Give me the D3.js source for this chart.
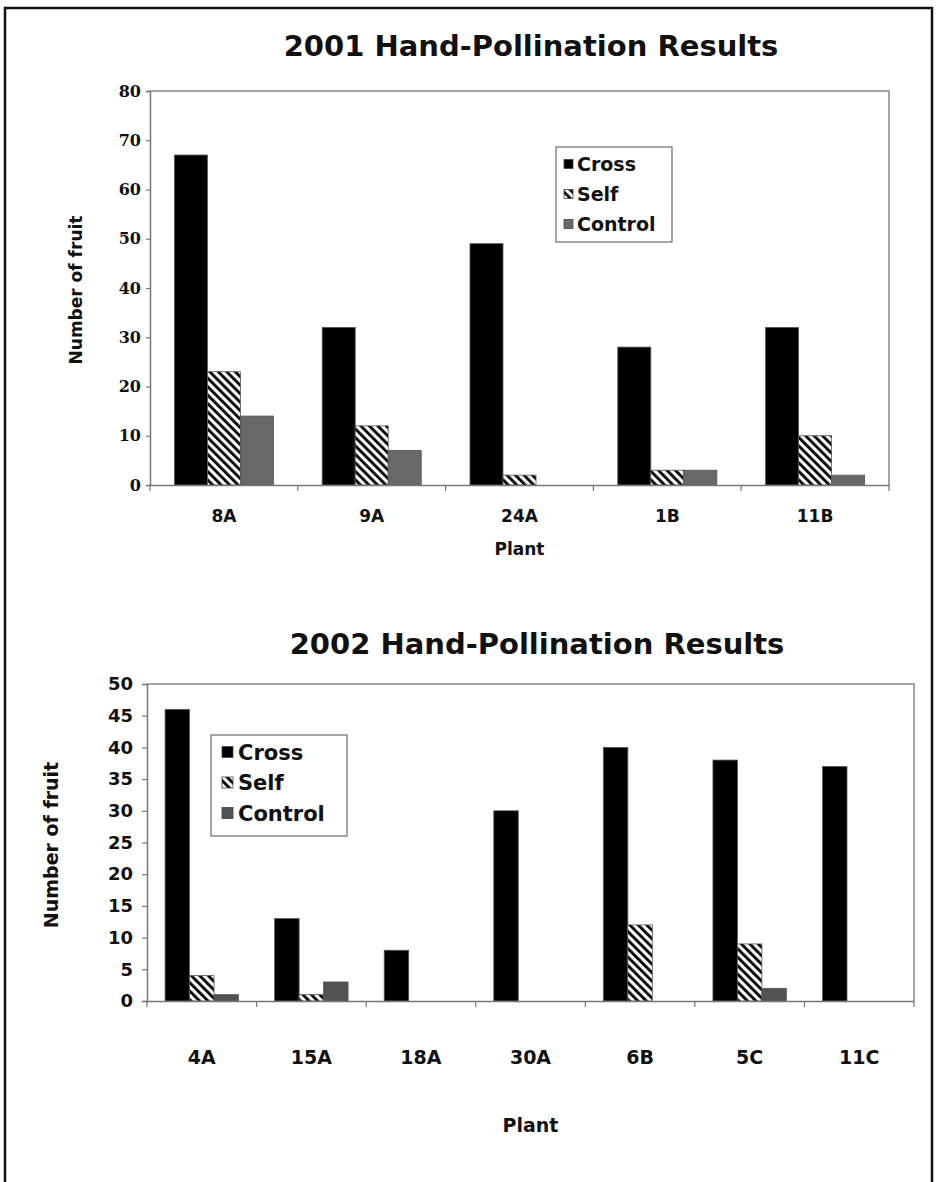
<!DOCTYPE html>
<html>
<head>
<meta charset="utf-8">
<script src="https://cdn.jsdelivr.net/npm/d3@7"></script>
<style>
  body { margin: 0; background: #fff; }
</style>
</head>
<body>
<script>
// series shared by both charts
const series = ["Cross", "Self", "Control"];

// 2001 data
const plants2001 = ["8A", "9A", "24A", "1B", "11B"];
const cross2001 = [67, 32, 49, 28, 32];
const self2001 = [23, 12, 2, 3, 10];
const control2001 = [14, 7, 0, 3, 2];
const yTicks2001 = [0, 10, 20, 30, 40, 50, 60, 70, 80];

// 2002 data
const plants2002 = ["4A", "15A", "18A", "30A", "6B", "5C", "11C"];
const cross2002 = [46, 13, 8, 30, 40, 38, 37];
const self2002 = [4, 1, 0, 0, 12, 9, 0];
const control2002 = [1, 3, 0, 0, 0, 2, 0];
const yTicks2002 = [0, 5, 10, 15, 20, 25, 30, 35, 40, 45, 50];

const sans = "'DejaVu Sans', Verdana, sans-serif";
const serif = "'DejaVu Serif', 'Liberation Serif', serif";

const svg = d3.select("body")
    .append("svg")
    .attr("width", 937)
    .attr("height", 1182);

// hatch pattern for "Self"
const defs = svg.append("defs");
const hatch = defs.append("pattern")
    .attr("id", "hatch")
    .attr("patternUnits", "userSpaceOnUse")
    .attr("width", 6)
    .attr("height", 6)
    .attr("patternTransform", "rotate(-45)");
hatch.append("rect").attr("width", 6).attr("height", 6).attr("fill", "#fff");
hatch.append("rect").attr("width", 2.8).attr("height", 6).attr("fill", "#000");

// page frame (top, left, right)
svg.append("path")
    .attr("d", "M5,1182 L5,8 L932,8 L932,1182")
    .attr("fill", "none")
    .attr("stroke", "#111")
    .attr("stroke-width", 2.5);

function drawChart(cfg) {
    const rows = cfg.plants.map((p, i) => ({
        plant: p, Cross: cfg.cross[i], Self: cfg.self[i], Control: cfg.control[i]
    }));
    const fills = {Cross: "#000", Self: "url(#hatch)", Control: cfg.controlColor};

    const x = d3.scaleBand()
        .domain(cfg.plants)
        .range([cfg.left, cfg.right]);
    const step = x.step();
    const x1 = d3.scaleBand()
        .domain(series)
        .range([step * 0.165, step * 0.835]);
    const y = d3.scaleLinear()
        .domain([0, d3.max(cfg.yTicks)])
        .range([cfg.bottom, cfg.top]);

    const g = svg.append("g");

    // plot frame top/right
    g.append("path")
        .attr("d", `M${cfg.left},${cfg.top} L${cfg.right},${cfg.top} L${cfg.right},${cfg.bottom}`)
        .attr("fill", "none")
        .attr("stroke", "#888")
        .attr("stroke-width", 1.5);

    // bars
    const groups = g.selectAll(".grp")
        .data(rows)
        .join("g")
        .attr("transform", d => `translate(${x(d.plant)},0)`);
    groups.selectAll("rect")
        .data(d => series.map(k => ({key: k, value: d[k]})).filter(e => e.value > 0))
        .join("rect")
        .attr("x", d => x1(d.key))
        .attr("width", x1.bandwidth())
        .attr("y", d => y(d.value))
        .attr("height", d => y(0) - y(d.value))
        .attr("fill", d => fills[d.key])
        .attr("stroke", "#555")
        .attr("stroke-width", 0.8);

    // y axis
    const yAxis = g.append("g")
        .attr("transform", `translate(${cfg.left},0)`)
        .call(d3.axisLeft(y).tickValues(cfg.yTicks).tickSize(cfg.yTickSize).tickPadding(cfg.yTickPad));
    yAxis.select(".domain").attr("stroke", "#777").attr("stroke-width", 1.5);
    yAxis.selectAll(".tick line").attr("stroke", "#777").attr("stroke-width", 1.2);
    yAxis.selectAll("text")
        .attr("fill", "#111")
        .style("font-family", cfg.yFont)
        .style("font-weight", "bold")
        .style("font-size", cfg.yFontSize + "px");

    // x axis
    const xAxis = g.append("g")
        .attr("transform", `translate(0,${cfg.bottom})`)
        .call(d3.axisBottom(x).tickSize(0).tickPadding(cfg.xTickPad).tickSizeOuter(0));
    xAxis.select(".domain").attr("stroke", "#777").attr("stroke-width", 1.5);
    xAxis.selectAll("text")
        .attr("fill", "#111")
        .style("font-family", sans)
        .style("font-weight", "bold")
        .style("font-size", cfg.xFontSize + "px");
    xAxis.selectAll(".bound")
        .data(cfg.plants.map(p => x(p)).concat([cfg.right]))
        .join("line")
        .attr("class", "bound")
        .attr("x1", d => d).attr("x2", d => d)
        .attr("y1", 0).attr("y2", 6)
        .attr("stroke", "#777")
        .attr("stroke-width", 1.2);

    // title
    svg.append("text")
        .attr("x", cfg.titleX)
        .attr("y", cfg.titleY)
        .attr("text-anchor", "middle")
        .style("font-family", sans)
        .style("font-weight", "bold")
        .style("font-size", cfg.titleSize + "px")
        .attr("fill", "#111")
        .text(cfg.title);

    // axis titles
    svg.append("text")
        .attr("transform", `translate(${cfg.yLabelX},${cfg.yLabelY}) rotate(-90)`)
        .attr("text-anchor", "middle")
        .style("font-family", sans)
        .style("font-weight", "bold")
        .style("font-size", cfg.labelSize + "px")
        .attr("fill", "#111")
        .text("Number of fruit");
    svg.append("text")
        .attr("x", (cfg.left + cfg.right) / 2)
        .attr("y", cfg.xLabelY)
        .attr("text-anchor", "middle")
        .style("font-family", sans)
        .style("font-weight", "bold")
        .style("font-size", cfg.labelSize + "px")
        .attr("fill", "#111")
        .text("Plant");

    // legend
    const lg = cfg.legend;
    svg.append("rect")
        .attr("x", lg.x).attr("y", lg.y)
        .attr("width", lg.w).attr("height", lg.h)
        .attr("fill", "#fff")
        .attr("stroke", "#777")
        .attr("stroke-width", 1.3);
    const item = svg.selectAll(null)
        .data(series)
        .join("g")
        .attr("transform", (d, i) => `translate(${lg.swatchX},${lg.row0 + i * lg.rowGap})`);
    item.append("rect")
        .attr("x", 0)
        .attr("y", -lg.sw / 2)
        .attr("width", lg.sw)
        .attr("height", lg.sw)
        .attr("fill", d => fills[d])
        .attr("stroke", "#444")
        .attr("stroke-width", 0.8);
    item.append("text")
        .attr("x", lg.textX - lg.swatchX)
        .attr("dy", "0.36em")
        .style("font-family", sans)
        .style("font-weight", "bold")
        .style("font-size", lg.size + "px")
        .attr("fill", "#111")
        .text(d => d);
}

drawChart({
    title: "2001 Hand-Pollination Results",
    plants: plants2001, cross: cross2001, self: self2001, control: control2001,
    yTicks: yTicks2001,
    controlColor: "#686868",
    left: 150, right: 889, top: 91, bottom: 485,
    yTickSize: 4, yTickPad: 5, yFont: serif, yFontSize: 16,
    xTickPad: 25, xFontSize: 17,
    titleX: 531, titleY: 56, titleSize: 29,
    yLabelX: 82, yLabelY: 290, xLabelY: 555, labelSize: 17,
    legend: {x: 556, y: 147, w: 116, h: 95, swatchX: 564, textX: 577, row0: 164, rowGap: 30, sw: 9, size: 19}
});

drawChart({
    title: "2002 Hand-Pollination Results",
    plants: plants2002, cross: cross2002, self: self2002, control: control2002,
    yTicks: yTicks2002,
    controlColor: "#525252",
    left: 147, right: 914, top: 684, bottom: 1001,
    yTickSize: 5, yTickPad: 9, yFont: sans, yFontSize: 18,
    xTickPad: 50, xFontSize: 19,
    titleX: 537, titleY: 654, titleSize: 29,
    yLabelX: 58, yLabelY: 845, xLabelY: 1132, labelSize: 19,
    legend: {x: 211, y: 735, w: 136, h: 101, swatchX: 222, textX: 238, row0: 752, rowGap: 30.5, sw: 11, size: 21}
});
</script>
</body>
</html>
